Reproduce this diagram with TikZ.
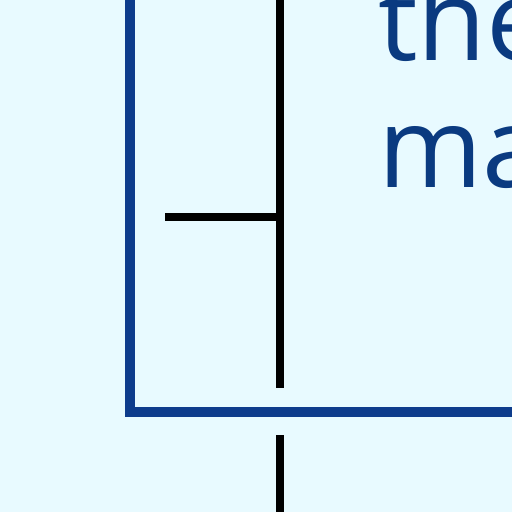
\documentclass[tikz,border=0pt]{standalone}
\usepackage{fontspec}
\setmainfont{Open Sans}
\definecolor{bgc}{HTML}{E8FAFF}
\definecolor{boxblue}{HTML}{0D3C8C}
\definecolor{txtblue}{HTML}{0A3A80}
\begin{document}
\begin{tikzpicture}[x=1pt,y=-1pt,
  boxline/.style={draw=boxblue,line width=10pt},
  wire/.style={draw=black,line width=7.5pt},
  lbl/.style={anchor=base west,inner sep=0pt,text=txtblue,font=\fontsize{112}{127}\selectfont,align=left}]
\fill[bgc] (0,0) rectangle (512,512);
\useasboundingbox (0,0) rectangle (512,512);
\coordinate (bt) at (130,-20);
\coordinate (bc) at (130,412);
\coordinate (br) at (540,412);
\draw[boxline,line join=miter] (bt) -- (bc) -- (br);
\coordinate (wt) at (280,-20);
\coordinate (wj) at (280,217);
\coordinate (we) at (280,388);
\coordinate (ws) at (280,435);
\coordinate (wb) at (280,540);
\coordinate (wl) at (165,217);
\draw[wire] (wt) -- (we);
\draw[wire] (ws) -- (wb);
\draw[wire] (wl) -- (wj);
\node[lbl] (txt) at (378,187) {the\\ma};
\end{tikzpicture}
\end{document}
